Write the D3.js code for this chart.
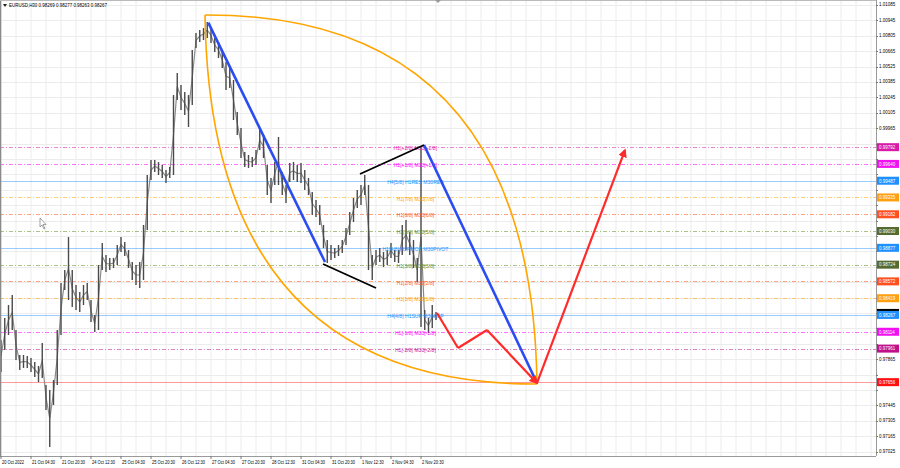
<!DOCTYPE html>
<html><head><meta charset="utf-8">
<script src="https://cdn.jsdelivr.net/npm/d3@7"></script>
<style>body{margin:0;background:#fff}svg{display:block}</style>
</head><body><svg id="c" width="900" height="468"></svg>
<script>
const chartTitle = "EURUSD,H30  0.98269 0.98277 0.98263 0.98267";
const barsPerPoint = 4;
const barHigh = [0.98039,0.98239,0.98357,0.98448,0.98130,0.97903,0.97903,0.97894,0.97875,0.97839,0.97803,0.98012,0.97630,0.97585,0.97675,0.98130,0.98557,0.98675,0.98975,0.98675,0.98539,0.98475,0.98539,0.98557,0.98403,0.98266,0.98721,0.98921,0.98812,0.98785,0.98785,0.98903,0.98975,0.98930,0.98857,0.98748,0.98721,0.98748,0.99085,0.99539,0.99675,0.99675,0.99657,0.99630,0.99585,0.99612,1.00266,1.00466,1.00357,1.00294,1.00266,1.00675,1.00830,1.00857,1.00875,1.00930,1.00875,1.00785,1.00748,1.00657,1.00566,1.00512,1.00403,1.00112,0.99966,0.99748,0.99721,0.99703,0.99766,0.99948,0.99903,0.99630,0.99512,0.99657,0.99885,0.99566,0.99448,0.99648,0.99657,0.99630,0.99648,0.99585,0.99512,0.99385,0.99312,0.99266,0.99085,0.98948,0.98903,0.98875,0.98903,0.98948,0.99057,0.99203,0.99330,0.99403,0.99448,0.99539,0.99448,0.98812,0.98857,0.98875,0.98839,0.98857,0.98921,0.98857,0.98857,0.99085,0.99130,0.99021,0.98948,0.98785,0.99794,0.98312,0.98239,0.98357,0.98294];
const barLow = [0.97748,0.97948,0.98085,0.98130,0.97857,0.97766,0.97785,0.97785,0.97748,0.97703,0.97657,0.97694,0.97403,0.97066,0.97448,0.97630,0.98085,0.98494,0.98403,0.98339,0.98312,0.98294,0.98357,0.98403,0.98203,0.98112,0.98130,0.98675,0.98657,0.98675,0.98694,0.98721,0.98839,0.98803,0.98694,0.98585,0.98539,0.98512,0.98585,0.99039,0.99494,0.99566,0.99539,0.99512,0.99466,0.99512,0.99539,1.00221,1.00130,1.00085,0.99975,1.00175,1.00694,1.00748,1.00766,1.00785,1.00739,1.00657,1.00603,1.00512,1.00312,1.00330,1.00039,0.99903,0.99694,0.99612,0.99603,0.99612,0.99630,0.99766,0.99694,0.99357,0.99285,0.99448,0.99448,0.99357,0.99285,0.99475,0.99494,0.99475,0.99466,0.99403,0.99357,0.99175,0.99157,0.99085,0.98875,0.98739,0.98766,0.98785,0.98803,0.98830,0.98903,0.98994,0.99112,0.99239,0.99266,0.99357,0.98675,0.98585,0.98721,0.98748,0.98703,0.98721,0.98785,0.98748,0.98739,0.98812,0.98857,0.98812,0.98694,0.98566,0.98157,0.98130,0.98103,0.98148,0.98221];
const priceTicks = [1.01085,1.00945,1.00805,1.00665,1.00525,1.00385,1.00245,1.00105,0.99965,0.99825,0.99685,0.99545,0.99405,0.99265,0.99125,0.98985,0.98845,0.98705,0.98565,0.98425,0.98285,0.98145,0.98005,0.97865,0.97725,0.97585,0.97445,0.97305,0.97165,0.97025];
const timeLabels = ["20 Oct 2022","21 Oct 04:30","21 Oct 20:30","24 Oct 12:30","25 Oct 04:30","25 Oct 20:30","26 Oct 12:30","27 Oct 04:30","27 Oct 20:30","28 Oct 12:30","31 Oct 04:30","31 Oct 20:30","1 Nov 12:30","2 Nov 04:30","2 Nov 20:30"];
const timeLabelBars = [0,32,64,96,128,160,192,224,256,288,320,352,384,416,448];

const levelPrices = [0.99792,0.99640,0.99487,0.99335,0.99182,0.99030,0.98877,0.98724,0.98572,0.98419,0.98267,0.98114,0.97961,0.97656];
const levelNames = ["H1[+2/8] M30[+2/8]","H1[+1/8] M30[+1/8]","H4[5/8] H1RES M30RES","H1[7/8] M30[7/8]","H1[6/8] M30[6/8]","H1[5/8] M30[5/8]","H1[4/8] H1PIVOT M30PIVOT","H1[3/8] M30[3/8]","H1[2/8] M30[2/8]","H1[1/8] M30[1/8]","H4[4/8] H1SUP M30SUP","H1[-1/8] M30[-1/8]","H1[-2/8] M30[-2/8]",""];
const levelColors = ["#e020b0","#ff00ff","#1e90ff","#ffa500","#ff5a1e","#6b8e23","#1e90ff","#6b8e23","#ff5a1e","#ffa500","#1e90ff","#ff00ff","#c81890","#ff2020"];
const levelBoxColors = ["#d81ca8","#f010f0","#1e90ff","#ffa010","#ff5020","#556b2f","#1e90ff","#556b2f","#ff5020","#ffa010","#1e90ff","#f010f0","#c0108a","#ff1010"];
const levelSolid = [false,false,true,false,false,false,true,false,false,false,true,false,false,true];

// drawing objects: [bar, price]
const blueLines = [[[221.1,1.00924],[345.6,0.98748]],[[451.2,0.99812],[571.7,0.97648]]];
const blackLines = [[[343.5,0.98730],[400.0,0.98512]],[[382.9,0.99548],[451.2,0.99812]]];
const redPath = [[465.1,0.98285],[487.5,0.97966],[518.4,0.98130],[571.7,0.97648],[665.6,0.99766]];
const arcStart = [217.6,1.00994], arcEnd = [571.7,0.97639];
const arcLowerCtrl = [223.0,0.97630], arcUpperCtrl = [566.4,1.01003];

const W = 900, H = 468, plotR = 876, plotB = 456;
const svg = d3.select("#c");
const x = d3.scaleLinear().domain([0, 928]).range([1, 871]);
const y = d3.scaleLinear().domain([0.969755, 1.01130]).range([457, 0]);
const FONT = "'Liberation Sans', Arial, sans-serif";

svg.append("rect").attr("width", W).attr("height", H).attr("fill", "#fff");
const defs = svg.append("defs");
defs.append("clipPath").attr("id","plot").append("rect").attr("x",0).attr("y",0).attr("width",plotR).attr("height",plotB);
defs.append("marker").attr("id","arr").attr("viewBox","0 0 10 10").attr("refX",8).attr("refY",5)
  .attr("markerWidth",4).attr("markerHeight",4).attr("orient","auto-start-reverse")
  .append("path").attr("d","M0,0L10,5L0,10z").attr("fill","#ff2a2a");

function label(g, tx, ty, s, opts) {
  const o = Object.assign({size:5.6, sx:0.8, fill:"#000", anchor:"start"}, opts||{});
  return g.append("text").attr("transform", `translate(${tx},${ty}) scale(${o.sx},1)`)
    .attr("font-family", FONT).attr("font-size", o.size).attr("fill", o.fill)
    .attr("text-anchor", o.anchor).attr("dominant-baseline","middle").text(s);
}

const plot = svg.append("g").attr("clip-path","url(#plot)");
// grid
const gv = d3.range(0, 929, 16);
plot.selectAll(".gv").data(gv).join("line").attr("x1", d=>x(d)).attr("x2", d=>x(d))
  .attr("y1",0).attr("y2",plotB).attr("stroke","#ececec").attr("stroke-width",1);
plot.selectAll(".gh").data(priceTicks).join("line").attr("x1",0).attr("x2",plotR)
  .attr("y1", d=>Math.round(y(d))+0.5).attr("y2", d=>Math.round(y(d))+0.5).attr("stroke","#ececec");

// levels
levelPrices.forEach((p,i)=>{
  plot.append("line").attr("x1",0).attr("x2",plotR).attr("y1",Math.round(y(p))+0.5).attr("y2",Math.round(y(p))+0.5)
    .attr("stroke", levelColors[i]).attr("stroke-width",1)
    .attr("stroke-opacity", levelSolid[i] ? 0.45 : 0.55)
    .attr("stroke-dasharray", levelSolid[i] ? null : "4,2,1,2");
});

// bars
const pts = barHigh.map((h,i)=>({bar:i*barsPerPoint, hi:h, lo:barLow[i]}));
plot.append("path").datum(pts).attr("fill","none").attr("stroke","#8a8a8a").attr("stroke-width",1.2)
  .attr("d", d3.line().x(d=>x(d.bar)).y(d=>y((d.hi+d.lo)/2)));
plot.selectAll(".bar").data(pts).join("line").attr("x1",d=>x(d.bar)).attr("x2",d=>x(d.bar))
  .attr("y1",d=>y(d.hi)).attr("y2",d=>y(d.lo)).attr("stroke","#4a4a4a").attr("stroke-width",1.4);

// level labels
levelPrices.forEach((p,i)=>{
  if (!levelNames[i]) return;
  label(plot, x(442), y(p)+1.5, levelNames[i], {fill: levelColors[i], anchor:"middle", size:6.2, sx:0.82});
});

// orange arcs
function arcPath(ctrl) {
  const pth = d3.path();
  pth.moveTo(x(arcStart[0]), y(arcStart[1]));
  pth.quadraticCurveTo(x(ctrl[0]), y(ctrl[1]), x(arcEnd[0]), y(arcEnd[1]));
  return pth.toString();
}
plot.append("path").attr("d", arcPath(arcLowerCtrl)).attr("fill","none").attr("stroke","#ffa500").attr("stroke-width",1.6);
plot.append("path").attr("d", arcPath(arcUpperCtrl)).attr("fill","none").attr("stroke","#ffa500").attr("stroke-width",1.6);

const ln = d3.line().x(d=>x(d[0])).y(d=>y(d[1]));
blueLines.forEach(l=>plot.append("path").attr("d", ln(l)).attr("stroke","#2a4cf0").attr("stroke-width",2.6).attr("fill","none"));
blackLines.forEach(l=>plot.append("path").attr("d", ln(l)).attr("stroke","#000").attr("stroke-width",1.8).attr("fill","none"));
for (let i=0;i<redPath.length-1;i++) {
  plot.append("path").attr("d", ln([redPath[i], redPath[i+1]])).attr("stroke","#ff2a2a").attr("stroke-width",2.2)
    .attr("fill","none").attr("marker-end", (i>=2) ? "url(#arr)" : null);
}

// frame
svg.append("line").attr("x1",plotR+0.5).attr("x2",plotR+0.5).attr("y1",0).attr("y2",plotB).attr("stroke","#9a9a9a");
svg.append("line").attr("x1",0).attr("x2",plotR).attr("y1",plotB+0.5).attr("y2",plotB+0.5).attr("stroke","#9a9a9a");
svg.append("line").attr("x1",0.5).attr("x2",0.5).attr("y1",0).attr("y2",plotB).attr("stroke","#8a8a8a").attr("stroke-width",1.5);
svg.append("line").attr("x1",0).attr("x2",plotR).attr("y1",0.5).attr("y2",0.5).attr("stroke","#bbb");

// price axis (labels hidden where a level box covers them)
const ax = svg.append("g");
priceTicks.forEach(p=>{
  ax.append("line").attr("x1",plotR).attr("x2",plotR+2).attr("y1",Math.round(y(p))+0.5).attr("y2",Math.round(y(p))+0.5).attr("stroke","#777");
  const covered = levelPrices.some(lp => Math.abs(y(lp) - y(p)) < 8) || Math.abs(y(0.98267)-2-y(p)) < 9;
  if (!covered) label(ax, plotR+3, y(p), p.toFixed(5), {size:5.6, sx:0.8});
});
// level boxes
levelPrices.forEach((p,i)=>{
  if (i===10) {
    ax.append("rect").attr("x",plotR+1).attr("y",y(0.98267)-6).attr("width",22).attr("height",8).attr("fill","#000");
  }
  ax.append("rect").attr("x",plotR+1).attr("y",y(p)-4).attr("width",22).attr("height",8).attr("fill",levelBoxColors[i]);
  label(ax, plotR+3, y(p)+0.3, p.toFixed(5), {size:5.6, sx:0.8, fill:"#fff"});
});

// time axis
const tx = svg.append("g");
timeLabels.forEach((t,i)=>{
  const px = x(timeLabelBars[i]);
  tx.append("line").attr("x1",px).attr("x2",px).attr("y1",plotB).attr("y2",plotB+3).attr("stroke","#777");
  label(tx, px+1, 463, t, {size:5.6, sx:0.72});
});

// title
svg.append("path").attr("d","M3,4L7,4L5,7z").attr("fill","#222");
label(svg, 9, 5.5, chartTitle, {size:5.6, sx:0.8});
// chart shift marker
svg.append("path").attr("d","M435,0L441,0L438,3z").attr("fill","#999");
// cursor
svg.append("path").attr("d","M40,218L40,227L42,225L44,229L45,228.5L43,224.5L46,224.5z").attr("fill","#fff").attr("stroke","#666").attr("stroke-width",0.6);
</script></body></html>
